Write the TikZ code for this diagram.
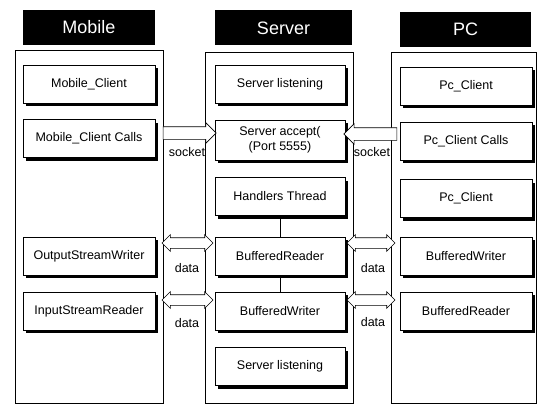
\documentclass[tikz,border=0pt]{standalone}
\usepackage{fontspec}
\setmainfont{Liberation Sans}
\usetikzlibrary{shapes.arrows,shadows}
\begin{document}
\begin{tikzpicture}[x=1pt,y=-1pt,
  hdr/.style={fill=black,text=white,font=\fontsize{18}{20}\selectfont,minimum height=35pt,inner sep=0pt},
  frame/.style={draw,line width=0.8pt},
  box/.style={draw,fill=white,line width=0.6pt,minimum width=132pt,minimum height=38pt,inner sep=1pt,align=center,font=\fontsize{12.5}{15}\selectfont,drop shadow={shadow xshift=3pt,shadow yshift=-3pt,opacity=1,fill=black}},
  sarrow/.style={single arrow,draw,fill=white,line width=0.6pt,single arrow head extend=4pt,inner xsep=0pt,inner ysep=6pt,minimum height=53pt},
  darrow/.style={double arrow,draw,fill=white,line width=0.6pt,double arrow head extend=3pt,inner xsep=0pt,inner ysep=5pt},
  lbl/.style={font=\fontsize{12.5}{15}\selectfont,inner sep=1pt},
  conn/.style={draw,line width=0.6pt}
]
\useasboundingbox (0,0) rectangle (537,404);
% column frames
\draw[frame] (15,50) rectangle (163,403);
\draw[frame] (205,52) rectangle (353,403);
\draw[frame] (391,52) rectangle (536,403);
% headers
\node[hdr,minimum width=132pt] (hm) at (89,27.5) {Mobile};
\node[hdr,minimum width=137pt] (hs) at (283.5,28) {Server};
\node[hdr,minimum width=131pt] (hp) at (465.5,29.5) {PC};
% mobile
\node[box] (m1) at (89,84) {Mobile\_Client};
\node[box] (m2) at (89,138.5) {Mobile\_Client Calls};
\node[box] (m3) at (89,256) {OutputStreamWriter};
\node[box] (m4) at (89,311) {InputStreamReader};
% server
\node[box,minimum width=130pt] (s1) at (280,84) {Server listening};
\node[box,minimum width=130pt,minimum height=40pt] (s2) at (280,140) {Server accept(\\(Port 5555)};
\node[box,minimum width=130pt] (s3) at (280,196.5) {Handlers Thread};
\node[box,minimum width=130pt] (s4) at (280,256) {BufferedReader};
\node[box,minimum width=130pt] (s5) at (280,311) {BufferedWriter};
\node[box,minimum width=130pt] (s6) at (280,366.5) {Server listening};
% pc
\node[box] (p1) at (466,86) {Pc\_Client};
\node[box] (p2) at (466,141) {Pc\_Client Calls};
\node[box] (p3) at (466,198.5) {Pc\_Client};
\node[box] (p4) at (466,256) {BufferedWriter};
\node[box] (p5) at (466,311) {BufferedReader};
% server internal connectors
\draw[conn] (s3) -- (s4);
\draw[conn] (s4) -- (s5);
% block arrows
\node[sarrow] (a1) at (186.5,133) {};
\node[sarrow,shape border rotate=180] (a2) at (373.5,134) {};
\node[darrow,minimum height=51pt] (a3) at (187.5,243) {};
\node[darrow,minimum height=51pt] (a4) at (187.5,300) {};
\node[darrow,minimum height=48pt] (a5) at (371,243) {};
\node[darrow,minimum height=48pt] (a6) at (371,300) {};
% labels
\node[lbl] (l1) at (187,152) {socket};
\node[lbl] (l2) at (372,152) {socket};
\node[lbl] (l3) at (187,268) {data};
\node[lbl] (l4) at (187,323) {data};
\node[lbl] (l5) at (373,268) {data};
\node[lbl] (l6) at (373,322) {data};
\end{tikzpicture}
\end{document}
